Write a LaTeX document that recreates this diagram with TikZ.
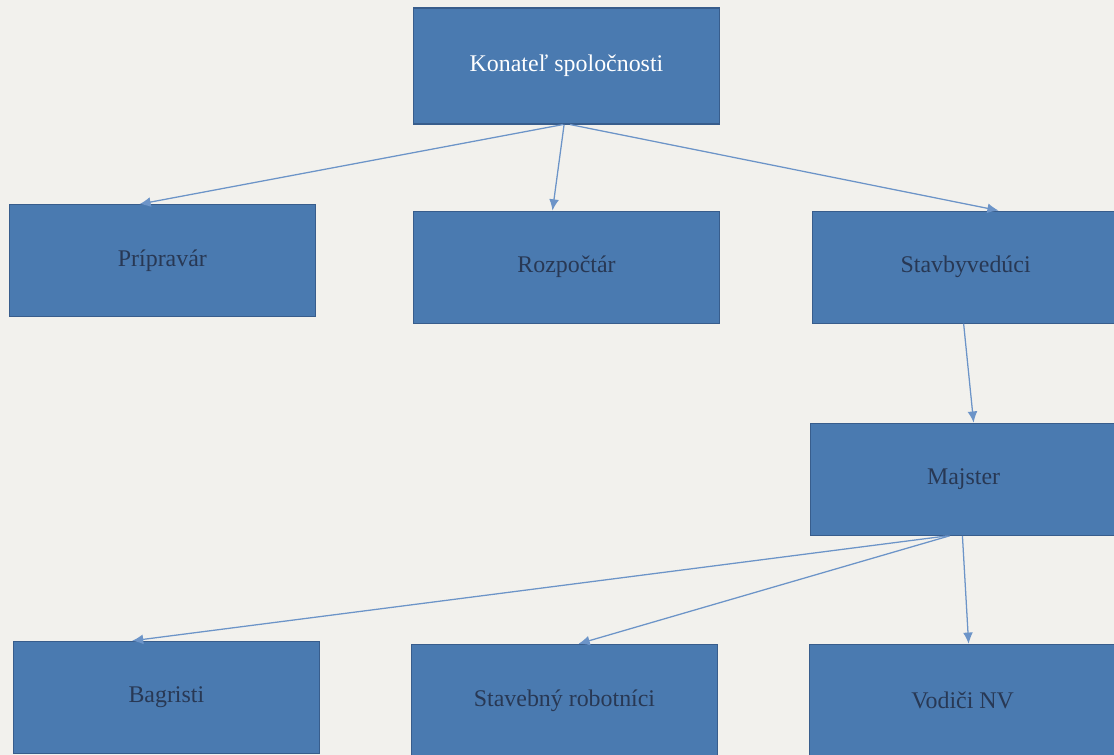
\documentclass[tikz,border=0pt]{standalone}
\usepackage{fontspec}
\setmainfont{Liberation Serif}
\usetikzlibrary{arrows.meta,positioning}

\definecolor{boxblue}{RGB}{74,122,176}
\definecolor{boxedge}{RGB}{56,93,140}
\definecolor{linkblue}{RGB}{108,148,200}
\definecolor{labeltext}{RGB}{40,56,84}
\definecolor{paper}{RGB}{242,241,237}

\tikzset{
  orgbox/.style={draw=boxedge,fill=boxblue,line width=0.8pt,minimum width=7.65cm,minimum height=2.8cm,
    font=\fontsize{17}{20}\selectfont,text=labeltext},
  headbox/.style={orgbox,minimum height=2.9cm,text=white}
}

\begin{document}
\begin{tikzpicture}[->,>={Latex[length=8pt,width=7pt]},semithick]
	\fill[paper] (0,0) rectangle (27.85,-18.875);
	\useasboundingbox (0,0) rectangle (27.85,-18.875);
	\clip (0,0) rectangle (27.85,-18.875);
	\node[headbox] (A) at (14.1625,-1.65) {Konateľ spoločnosti};
	\node[orgbox]  (C) [below=2.15cm of A] {Rozpočtár};
	\node[orgbox]  (B) [left=2.425cm of C,yshift=0.16cm] {Prípravár};
	\node[orgbox]  (D) [right=2.3cm of C] {Stavbyvedúci};
	\node[orgbox]  (E) [below=2.475cm of D,xshift=-0.05cm] {Majster};
	\node[orgbox]  (H) [below=2.7cm of E,xshift=-0.025cm] {Vodiči NV};
	\node[orgbox]  (G) [left=2.275cm of H] {Stavebný robotníci};
	\node[orgbox]  (F) [left=2.275cm of G,yshift=0.075cm] {Bagristi};
	\path[color=linkblue,line width=0.9pt]
	([xshift=-0.09cm]A.south) edge ([xshift=-0.575cm]B.north)
	([xshift=-0.06cm]A.south) edge ([xshift=-0.35cm]C.north)
	([xshift=0.09cm]A.south)  edge ([xshift=0.825cm]D.north)
	([xshift=-0.05cm]D.south) edge ([xshift=0.25cm]E.north)
	([xshift=-0.4cm]E.south)  edge ([xshift=-0.86cm]F.north)
	([xshift=-0.35cm]E.south) edge ([xshift=0.35cm]G.north)
	([xshift=-0.03cm]E.south) edge ([xshift=0.15cm]H.north);
\end{tikzpicture}
\end{document}
